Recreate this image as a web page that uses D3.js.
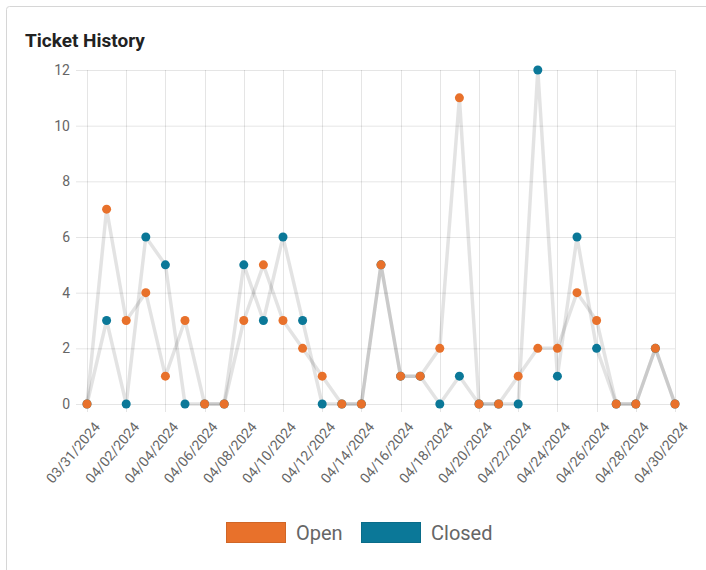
<!DOCTYPE html>
<html>
<head>
<meta charset="utf-8">
<script src="https://cdn.jsdelivr.net/npm/d3@7"></script>
<style>
  html, body { margin: 0; padding: 0; background: #fff; }
  svg { display: block; font-family: Roboto, "Open Sans", sans-serif; }
</style>
</head>
<body>
<svg id="chart" width="706" height="570"></svg>
<script>
const dates = ["03/31/2024","04/01/2024","04/02/2024","04/03/2024","04/04/2024","04/05/2024","04/06/2024","04/07/2024","04/08/2024","04/09/2024","04/10/2024","04/11/2024","04/12/2024","04/13/2024","04/14/2024","04/15/2024","04/16/2024","04/17/2024","04/18/2024","04/19/2024","04/20/2024","04/21/2024","04/22/2024","04/23/2024","04/24/2024","04/25/2024","04/26/2024","04/27/2024","04/28/2024","04/29/2024","04/30/2024"];
const openValues   = [0,7,3,4,1,3,0,0,3,5,3,2,1,0,0,5,1,1,2,11,0,0,1,2,2,4,3,0,0,2,0];
const closedValues = [0,3,0,6,5,0,0,0,5,3,6,3,0,0,0,5,1,1,0,1,0,0,0,12,1,6,2,0,0,2,0];
const yTicks = [0,2,4,6,8,10,12];
const seriesNames = ["Open","Closed"];
const seriesColors = ["#e8712b","#0b7898"];

const svg = d3.select("#chart");

// card
svg.append("rect").attr("x",6.5).attr("y",6.5).attr("width",720).attr("height",600)
  .attr("rx",3).attr("fill","#fff").attr("stroke","#d6d6d6");

svg.append("text").attr("x",25).attr("y",47).text("Ticket History")
  .attr("font-size",19).attr("font-weight","bold").attr("fill","#222");

const x = d3.scalePoint().domain(dates).range([87, 675]);
const y = d3.scaleLinear().domain([0,12]).range([404, 70]);

const grid = svg.append("g");
grid.selectAll("line.h").data(yTicks).join("line")
  .attr("x1",76).attr("x2",675).attr("y1",d=>y(d)+0.5).attr("y2",d=>y(d)+0.5)
  .attr("stroke","rgba(0,0,0,0.1)");
const labelled = dates.filter((d,i)=>i%2===0);
grid.selectAll("line.v").data(labelled).join("line")
  .attr("x1",d=>Math.round(x(d))+0.5).attr("x2",d=>Math.round(x(d))+0.5)
  .attr("y1",70).attr("y2",412)
  .attr("stroke","rgba(0,0,0,0.1)");

svg.append("g").selectAll("text").data(yTicks).join("text")
  .attr("x",70).attr("y",d=>y(d)).attr("dy","0.35em").attr("text-anchor","end")
  .attr("font-size",14).attr("fill","#666").text(d=>d);

svg.append("g").selectAll("text").data(labelled).join("text")
  .attr("transform",d=>`translate(${x(d)+10},${424}) rotate(-50)`)
  .attr("text-anchor","end").attr("dy","0.35em")
  .attr("font-size",14).attr("fill","#666").text(d=>d);

const series = [openValues, closedValues];
const line = d3.line().x((d,i)=>x(dates[i])).y(d=>y(d));

series.slice().reverse().forEach(vals=>{
  svg.append("path").datum(vals).attr("d",line)
    .attr("fill","none").attr("stroke","rgba(0,0,0,0.11)").attr("stroke-width",3.5)
    .attr("stroke-linejoin","round");
});
[1,0].forEach(si=>{
  svg.append("g").selectAll("circle").data(series[si]).join("circle")
    .attr("cx",(d,i)=>x(dates[i])).attr("cy",d=>y(d)).attr("r",4.5)
    .attr("fill",seriesColors[si]);
});

const legendX = [226, 361];
seriesNames.forEach((n,i)=>{
  svg.append("rect").attr("x",legendX[i]+0.5).attr("y",522.5).attr("width",59).attr("height",20)
    .attr("fill",seriesColors[i]).attr("stroke",d3.color(seriesColors[i]).darker(0.3));
  svg.append("text").attr("x",legendX[i]+70).attr("y",540).text(n)
    .attr("font-size",20).attr("fill","#666");
});
</script>
</body>
</html>
